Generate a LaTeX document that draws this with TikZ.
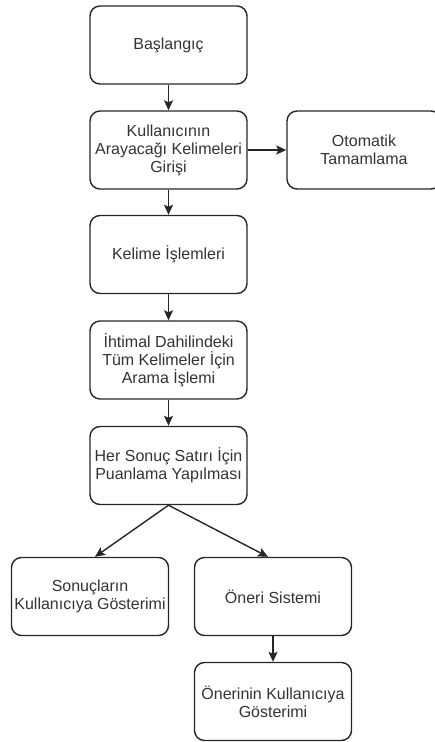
\documentclass[tikz,border=0pt]{standalone}
\usepackage{fontspec}
\setmainfont{Liberation Sans}
\usetikzlibrary{arrows.meta}
\begin{document}
\begin{tikzpicture}[x=1pt,y=-1pt,
  box/.style={draw=black!85,line width=1.4pt,rounded corners=10pt,minimum width=157pt,minimum height=78pt,
    align=center,font=\fontsize{16}{18}\selectfont,text=black!80,inner sep=2pt},
  arr/.style={draw=black!85,line width=1.4pt,-{Stealth[length=10pt,width=9pt,inset=2pt]}}]
\useasboundingbox (0,0) rectangle (434,742);
\node[box] (b1) at (168.5,45) {Başlangıç};
\node[box] (b2) at (168.5,150) {Kullanıcının\\Arayacağı Kelimeleri\\Girişi};
\node[box,minimum width=154pt] (oto) at (364,150) {Otomatik\\Tamamlama};
\node[box] (b3) at (168.5,254.5) {Kelime İşlemleri};
\node[box] (b4) at (168.5,360) {İhtimal Dahilindeki\\Tüm Kelimeler İçin\\Arama İşlemi};
\node[box] (b5) at (168.5,465.5) {Her Sonuç Satırı İçin\\Puanlama Yapılması};
\node[box] (b6) at (90,596.5) {Sonuçların\\Kullanıcıya Gösterimi};
\node[box] (b7) at (273,596.5) {Öneri Sistemi};
\node[box] (b8) at (273,701.5) {Önerinin Kullanıcıya\\Gösterimi};
\draw[arr] (b1) -- (b2);
\draw[arr] (b2) -- (oto);
\draw[arr] (b2) -- (b3);
\draw[arr] (b3) -- (b4);
\draw[arr] (b4) -- (b5);
\draw[arr] (b5.south) -- ([xshift=5pt]b6.north);
\draw[arr] (b5.south) -- ([xshift=-5pt]b7.north);
\draw[arr] (b7) -- (b8);
\end{tikzpicture}
\end{document}
